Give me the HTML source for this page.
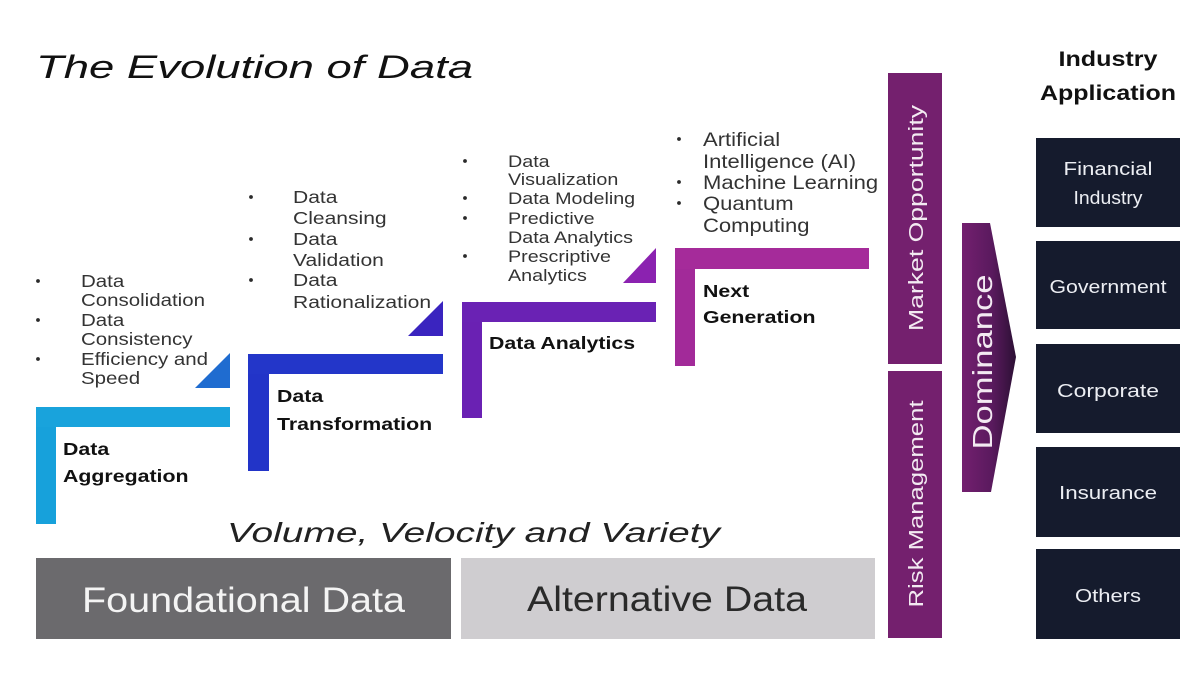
<!DOCTYPE html>
<html><head><meta charset="utf-8"><style>
html,body{margin:0;padding:0;background:#fff;}
svg{display:block;}
text{font-family:"Liberation Sans",Arial,sans-serif;}
</style></head><body>
<svg width="1200" height="675" viewBox="0 0 1200 675" xmlns="http://www.w3.org/2000/svg">
<defs>
<linearGradient id="dom" x1="0" y1="0" x2="1" y2="0">
<stop offset="0" stop-color="#731f6f"/>
<stop offset="0.55" stop-color="#5a1a5e"/>
<stop offset="1" stop-color="#2c1034"/>
</linearGradient>
</defs>
<rect width="1200" height="675" fill="#fff"/>

<!-- Title -->
<text x="36" y="78" font-size="32" font-style="italic" fill="#111" textLength="437" lengthAdjust="spacingAndGlyphs">The Evolution of Data</text>

<!-- L shapes & triangles -->
<rect x="36" y="407" width="20" height="117" fill="#17a1db"/>
<rect x="36" y="407" width="194" height="20" fill="#19a3dc"/>
<polygon points="195,388 230,353 230,388" fill="#1f6cd0"/>

<rect x="248" y="354" width="21" height="117" fill="#2234c8"/>
<rect x="248" y="354" width="195" height="20" fill="#2336c9"/>
<polygon points="408,336 443,301 443,336" fill="#3a24bf"/>

<rect x="462" y="302" width="20" height="116" fill="#6a21b3"/>
<rect x="462" y="302" width="194" height="20" fill="#6a22b4"/>
<polygon points="623,283 656,248 656,283" fill="#8b22b0"/>

<rect x="675" y="248" width="20" height="118" fill="#a22a99"/>
<rect x="675" y="248" width="194" height="21" fill="#a52b9a"/>

<!-- Bold labels -->
<g font-weight="bold" font-size="18" fill="#111">
<g transform="translate(63,0) scale(1.185,1)"><text x="0" y="455">Data</text><text x="0" y="482">Aggregation</text></g>
<g transform="translate(277,0) scale(1.185,1)"><text x="0" y="402">Data</text><text x="0" y="430">Transformation</text></g>
<g transform="translate(489,0) scale(1.185,1)"><text x="0" y="349">Data Analytics</text></g>
<g transform="translate(703,0) scale(1.185,1)"><text x="0" y="297">Next</text><text x="0" y="323">Generation</text></g>
</g>

<!-- Bullets: Aggregation -->
<g fill="#2a2a2a">
<circle cx="38" cy="281" r="1.9"/><circle cx="38" cy="320" r="1.9"/><circle cx="38" cy="359" r="1.9"/>
<circle cx="251" cy="197" r="1.9"/><circle cx="251" cy="239" r="1.9"/><circle cx="251" cy="280" r="1.9"/>
<circle cx="465" cy="161" r="1.9"/><circle cx="465" cy="198" r="1.9"/><circle cx="465" cy="218" r="1.9"/><circle cx="465" cy="256" r="1.9"/>
<circle cx="679" cy="139" r="1.9"/><circle cx="679" cy="182" r="1.9"/><circle cx="679" cy="203" r="1.9"/>
</g>
<g fill="#333" font-size="17.5">
<g transform="translate(81,0) scale(1.17,1)">
<text x="0" y="287">Data</text><text x="0" y="306">Consolidation</text>
<text x="0" y="326">Data</text><text x="0" y="345">Consistency</text>
<text x="0" y="365">Efficiency and</text><text x="0" y="384">Speed</text>
</g>
</g>
<g fill="#333" font-size="18">
<g transform="translate(293,0) scale(1.17,1)">
<text x="0" y="203">Data</text><text x="0" y="224">Cleansing</text>
<text x="0" y="245">Data</text><text x="0" y="266">Validation</text>
<text x="0" y="286">Data</text><text x="0" y="308">Rationalization</text>
</g>
</g>
<g fill="#333" font-size="17">
<g transform="translate(508,0) scale(1.16,1)">
<text x="0" y="167">Data</text><text x="0" y="185">Visualization</text>
<text x="0" y="204">Data Modeling</text>
<text x="0" y="224">Predictive</text><text x="0" y="243">Data Analytics</text>
<text x="0" y="262">Prescriptive</text><text x="0" y="281">Analytics</text>
</g>
</g>
<g fill="#333" font-size="19">
<g transform="translate(703,0) scale(1.16,1)">
<text x="0" y="146">Artificial</text><text x="0" y="168">Intelligence (AI)</text>
<text x="0" y="189">Machine Learning</text>
<text x="0" y="210">Quantum</text><text x="0" y="232">Computing</text>
</g>
</g>

<!-- Volume text -->
<text x="227" y="542" font-size="28" font-style="italic" fill="#222" textLength="493" lengthAdjust="spacingAndGlyphs">Volume, Velocity and Variety</text>

<!-- Bottom boxes -->
<rect x="36" y="558" width="415" height="81" fill="#6b6a6d"/>
<text x="82" y="612" font-size="35" fill="#f4f4f4" textLength="323" lengthAdjust="spacingAndGlyphs">Foundational Data</text>
<rect x="461" y="558" width="414" height="81" fill="#cfcdd0"/>
<text x="527" y="611" font-size="35" fill="#2a2a2a" textLength="280" lengthAdjust="spacingAndGlyphs">Alternative Data</text>

<!-- Vertical bars -->
<rect x="888" y="73" width="54" height="291" fill="#74206e"/>
<rect x="888" y="371" width="54" height="267" fill="#74206e"/>
<text transform="translate(923,218) rotate(-90)" x="0" y="0" text-anchor="middle" font-size="20" fill="#f3eaf2" textLength="226" lengthAdjust="spacingAndGlyphs">Market Opportunity</text>
<text transform="translate(923,504) rotate(-90)" x="0" y="0" text-anchor="middle" font-size="20" fill="#f3eaf2" textLength="207" lengthAdjust="spacingAndGlyphs">Risk Management</text>

<!-- Dominance arrow -->
<polygon points="962,223 990,223 1016,357 991,492 962,492" fill="url(#dom)"/>
<text transform="translate(992,362) rotate(-90)" x="0" y="0" text-anchor="middle" font-size="28" fill="#f3eaf2" textLength="175" lengthAdjust="spacingAndGlyphs">Dominance</text>

<!-- Industry Application -->
<text x="1108" y="66" text-anchor="middle" font-size="21" font-weight="bold" fill="#111" textLength="99" lengthAdjust="spacingAndGlyphs">Industry</text>
<text x="1108" y="100" text-anchor="middle" font-size="21" font-weight="bold" fill="#111" textLength="136" lengthAdjust="spacingAndGlyphs">Application</text>

<g fill="#151b2d">
<rect x="1036" y="138" width="144" height="89"/>
<rect x="1036" y="241" width="144" height="88"/>
<rect x="1036" y="344" width="144" height="89"/>
<rect x="1036" y="447" width="144" height="90"/>
<rect x="1036" y="549" width="144" height="90"/>
</g>
<g fill="#eceef3" font-size="18" text-anchor="middle">
<text x="1108" y="175" textLength="89" lengthAdjust="spacingAndGlyphs">Financial</text>
<text x="1108" y="204" textLength="69" lengthAdjust="spacingAndGlyphs">Industry</text>
<text x="1108" y="293" textLength="117" lengthAdjust="spacingAndGlyphs">Government</text>
<text x="1108" y="397" textLength="102" lengthAdjust="spacingAndGlyphs">Corporate</text>
<text x="1108" y="499" textLength="98" lengthAdjust="spacingAndGlyphs">Insurance</text>
<text x="1108" y="602" textLength="66" lengthAdjust="spacingAndGlyphs">Others</text>
</g>
</svg>
</body></html>
